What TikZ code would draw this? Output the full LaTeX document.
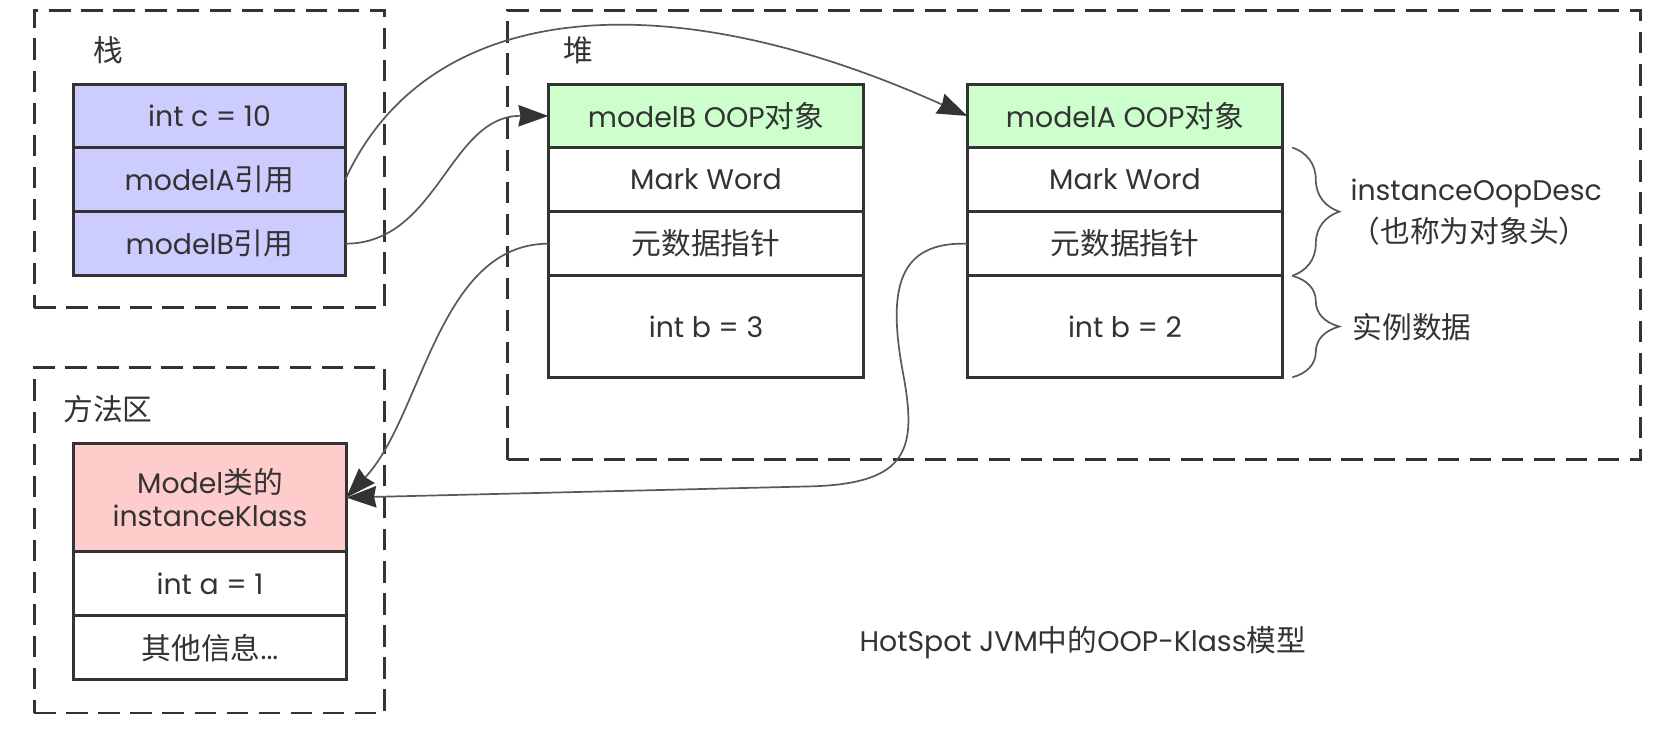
\documentclass[tikz,border=0pt]{standalone}
\usepackage{fontspec}
\setmainfont{Poppins}
\newfontfamily\cjk[Scale=1.05]{Noto Sans CJK SC}
\usetikzlibrary{arrows.meta,decorations.pathreplacing}
\definecolor{bd}{HTML}{333333}
\definecolor{ln}{HTML}{595959}
\definecolor{lav}{HTML}{CCCCFF}
\definecolor{grn}{HTML}{CCFFCC}
\definecolor{pnk}{HTML}{FFCCCC}
\begin{document}
\begin{tikzpicture}[x=1pt,y=-1pt,
  txt/.style={font=\fontsize{26.5}{30}\selectfont, text=bd},
  cell/.style={txt, draw=bd, line width=2.6pt, anchor=north west, inner sep=0pt, outer sep=0pt, align=center},
  grp/.style={draw=bd, line width=2.6pt, dash pattern=on 20pt off 10pt, anchor=north west, inner sep=0pt, outer sep=0pt},
  conn/.style={draw=ln, line width=1.6pt},
  arr/.style={conn, -{Stealth[length=28pt,width=20pt,inset=2pt,color=bd]}},
  brc/.style={draw=ln, line width=1.6pt, decorate, decoration={brace, amplitude=44pt}},
]
\useasboundingbox (0,0) rectangle (1568,701);

% containers
\node[grp, minimum width=328, minimum height=278] (stack) at (32,10) {};
\node[grp, minimum width=1060, minimum height=420] (heap) at (475,10) {};
\node[grp, minimum width=328, minimum height=323] (meth) at (32,344) {};
\node[txt] (lstack) at (101,47) {\cjk 栈};
\node[txt] (lheap) at (541,47) {\cjk 堆};
\node[txt] (lmeth) at (101,383) {\cjk 方法区};

% stack
\node[cell, fill=lav, minimum width=254, minimum height=59] (c1) at (69,79) {int c = 10};
\node[cell, fill=lav, minimum width=254, minimum height=60] (c2) at (69,138) {modelA{\cjk 引用}};
\node[cell, fill=lav, minimum width=254, minimum height=60] (c3) at (69,198) {modelB{\cjk 引用}};

% modelB object
\node[cell, fill=grn, minimum width=295, minimum height=59] (b1) at (513,79) {modelB OOP{\cjk 对象}};
\node[cell, fill=white, minimum width=295, minimum height=60] (b2) at (513,138) {Mark Word};
\node[cell, fill=white, minimum width=295, minimum height=60] (b3) at (513,198) {\cjk 元数据指针};
\node[cell, fill=white, minimum width=295, minimum height=95] (b4) at (513,258) {int b = 3};

% modelA object
\node[cell, fill=grn, minimum width=295, minimum height=59] (a1) at (905,79) {modelA OOP{\cjk 对象}};
\node[cell, fill=white, minimum width=295, minimum height=60] (a2) at (905,138) {Mark Word};
\node[cell, fill=white, minimum width=295, minimum height=60] (a3) at (905,198) {\cjk 元数据指针};
\node[cell, fill=white, minimum width=295, minimum height=95] (a4) at (905,258) {int b = 2};

% klass
\node[cell, fill=pnk, minimum width=255, minimum height=101] (k1) at (69,415) {Model{\cjk 类的}\\instanceKlass};
\node[cell, fill=white, minimum width=255, minimum height=60] (k2) at (69,516) {int a = 1};
\node[cell, fill=white, minimum width=255, minimum height=60] (k3) at (69,576) {{\cjk 其他信息}...};

% braces
\draw[brc] ([xshift=9pt]a2.north east) -- ([xshift=9pt]a3.south east);
\draw[brc] ([xshift=9pt]a4.north east) -- ([xshift=9pt]a4.south east);
\node[txt, anchor=west] (desc) at (1260,181) {instanceOopDesc};
\node[txt, anchor=west] (desc2) at (1260,216) {\cjk （也称为对象头）};
\node[txt, anchor=west] (inst) at (1262,306) {\cjk 实例数据};

\node[txt] (title) at (1013,601) {HotSpot JVM{\cjk 中的}OOP-Klass{\cjk 模型}};

% connectors
\draw[arr] (c2.east) .. controls (400,0) and (620,-20) .. (a1.west);
\draw[arr] (c3.east) .. controls (410,228) and (420,108) .. (b1.west);
\draw[arr] (b3.west) .. controls (410,228) and (395,390) .. (k1.east);
\draw[arr] (a3.west) .. controls (840,226) and (830,270) .. (845,350) .. controls (858,420) and (850,452) .. (760,455) -- (k1.east);
\end{tikzpicture}
\end{document}
